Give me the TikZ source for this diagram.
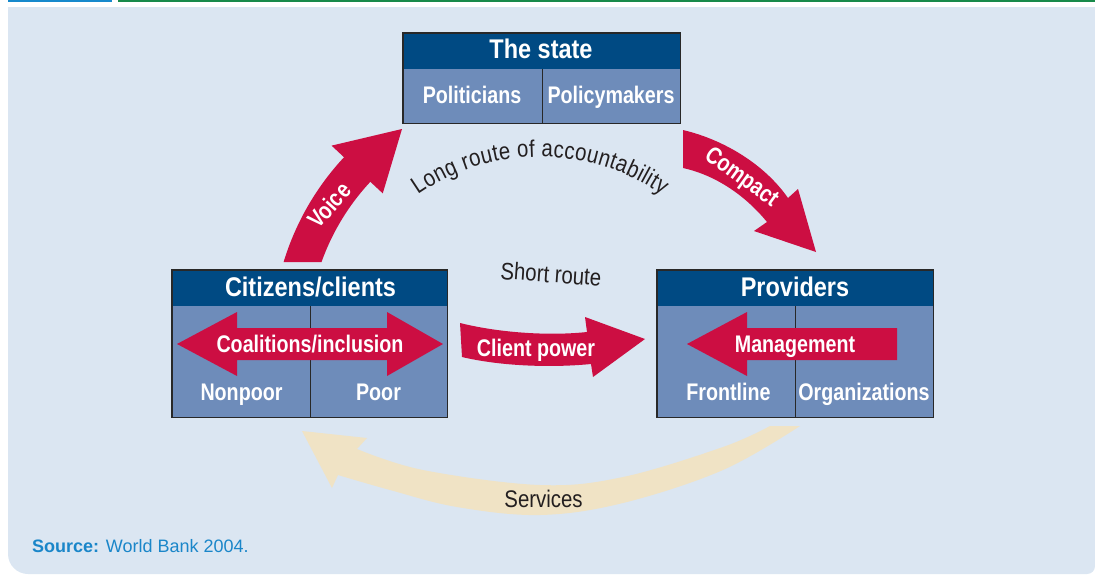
\documentclass[tikz,border=0pt]{standalone}
\usepackage{fontspec}
\setmainfont{Liberation Sans}
\newfontfamily\hdrfont[FakeStretch=0.87]{Liberation Sans}
\newfontfamily\cndfont[FakeStretch=0.82]{Liberation Sans}
\newfontfamily\plainfont[FakeStretch=0.85]{Liberation Sans}
\usetikzlibrary{decorations.text}

\definecolor{panel}{RGB}{219,230,242}
\definecolor{hdrblue}{RGB}{0,74,131}
\definecolor{cellblue}{RGB}{110,140,186}
\definecolor{arrowred}{RGB}{204,14,66}
\definecolor{beige}{RGB}{240,227,197}
\definecolor{srcblue}{RGB}{26,134,201}
\definecolor{topgreen}{RGB}{24,138,74}
\definecolor{topblue}{RGB}{22,137,204}
\definecolor{txt}{RGB}{35,31,32}
\definecolor{edge}{RGB}{40,40,40}

\tikzset{
  headcell/.style={fill=hdrblue, inner sep=0pt, anchor=north west},
  bodycell/.style={fill=cellblue, inner sep=0pt, anchor=north west},
  frame/.style={draw=edge, line width=1.3pt},
  headtext/.style={text=white, font=\hdrfont\bfseries\fontsize{27}{27}\selectfont, anchor=base, inner sep=0pt},
  celltext/.style={text=white, font=\cndfont\bfseries\fontsize{24}{24}\selectfont, anchor=base, inner sep=0pt},
  plaintext/.style={text=txt, font=\plainfont\fontsize{24}{24}\selectfont, inner sep=0pt},
  redarrow/.style={fill=arrowred},
  servarrow/.style={fill=beige},
}

\begin{document}
\begin{tikzpicture}[x=1pt, y=-1pt]
\useasboundingbox (0,0) rectangle (1095,574);

% top rules and panel
\fill[topblue] (8,0) rectangle (112,2);
\fill[topgreen] (118,0) rectangle (1095,2);
\fill[panel] (8,7) -- (1095,7) -- (1095,566)
  .. controls (1095,570.5) and (1091.5,574) .. (1087,574) -- (28,574)
  .. controls (17,574) and (8,565) .. (8,554) -- cycle;

% services (short route back to citizens)
\fill[servarrow] plot[smooth, tension=0.6] coordinates {(800,426) (723,470) (623,503) (540,515) (457,507) (390,490) (338,475)}
  -- (332,488) -- (302,431) -- (367,438)
  -- plot[smooth, tension=0.6] coordinates {(357,449) (423,470) (540,485) (623,477) (723,447) (770,426)} -- cycle;
\node[plaintext, anchor=base] (services) at (543.5,507) {Services};

% the state
\node[headcell, minimum width=277pt, minimum height=36pt] (sh) at (403,33) {};
\node[bodycell, minimum width=139pt, minimum height=54pt] (sl) at (403,69) {};
\node[bodycell, minimum width=138pt, minimum height=54pt] (sr) at (542,69) {};
\draw[frame] (sh.north west) rectangle (sr.south east);
\draw[frame] (sl.north east) -- (sl.south east);
\node[headtext] (tstate) at (541,58) {The state};
\node[celltext] (tpol) at (472,103) {Politicians};
\node[celltext] (tpmk) at (611,103) {Policymakers};

% citizens / clients
\node[headcell, minimum width=275pt, minimum height=36pt] (ch) at (172,270) {};
\node[bodycell, minimum width=138pt, minimum height=111pt] (cl) at (172,306) {};
\node[bodycell, minimum width=137pt, minimum height=111pt] (cr) at (310,306) {};
\draw[frame] (ch.north west) rectangle (cr.south east);
\draw[frame] (cl.north east) -- (cl.south east);
\node[headtext] (tcit) at (310.5,296) {Citizens/clients};
\node[celltext] (tnp) at (241.5,400) {Nonpoor};
\node[celltext] (tpoor) at (378.5,400) {Poor};

% providers
\node[headcell, minimum width=276pt, minimum height=36pt] (ph) at (657,270) {};
\node[bodycell, minimum width=138pt, minimum height=111pt] (pl) at (657,306) {};
\node[bodycell, minimum width=138pt, minimum height=111pt] (pr) at (795,306) {};
\draw[frame] (ph.north west) rectangle (pr.south east);
\draw[frame] (pl.north east) -- (pl.south east);
\node[headtext] (tprov) at (795,296) {Providers};
\node[celltext] (tfront) at (728.5,400) {Frontline};
\node[celltext] (torg) at (864,400) {Organizations};

% coalitions / inclusion
\fill[redarrow] (177,344) -- (237,312) -- (237,328) -- (387,328) -- (387,312) -- (443,344)
  -- (387,376) -- (387,360) -- (237,360) -- (237,376) -- cycle;
\node[celltext] (tcoal) at (310,352) {Coalitions/inclusion};

% management
\fill[redarrow] (687,344) -- (747,312) -- (747,328) -- (897,328) -- (897,360) -- (747,360) -- (747,376) -- cycle;
\node[celltext] (tman) at (795,352) {Management};

% voice
\fill[redarrow] plot[domain=163.1:137, samples=25, variable=\t] ({540+268*cos(\t)},{340-268*sin(\t)})
  -- ({540+285*cos(137)},{340-285*sin(137)}) -- (402,129)
  -- ({540+215*cos(137)},{340-215*sin(137)})
  -- plot[domain=137:160.4, samples=25, variable=\t] ({540+232*cos(\t)},{340-232*sin(\t)}) -- cycle;
\node[celltext, anchor=center, rotate=48] (tvoice) at (329,205) {Voice};

% compact
\fill[redarrow] (683,130) .. controls (725,140) and (765,165) .. (788,198) -- (798,189) -- (816,252)
  -- (754,231) -- (767,222) .. controls (745,195) and (715,175) .. (683,168) -- cycle;
\node[celltext, anchor=center, rotate=-36] (tcomp) at (741,178) {Compact};

% client power
\fill[redarrow] (460,323) .. controls (500,333) and (550,336) .. (587,332) -- (585,317) -- (645,339)
  -- (593,377) -- (591,364) .. controls (550,368) and (500,366) .. (462,357) -- cycle;
\node[celltext] (tclient) at (536,356) {Client power};

% route labels
\path[decorate, decoration={text along path, text align={fit to path},
  text={|\plainfont\fontsize{24}{24}\selectfont\color{txt}|Long route of accountability}}]
  (418,195) .. controls (491,144) and (589,144) .. (662,195);
\node[plaintext, anchor=center, rotate=-4] (tshort) at (551,274) {Short route};

% source line
\node[anchor=base west, inner sep=0pt, text=srcblue, font=\fontsize{18}{18}\selectfont] (src) at (32,552) {\textbf{Source:} World Bank 2004.};
\end{tikzpicture}
\end{document}
